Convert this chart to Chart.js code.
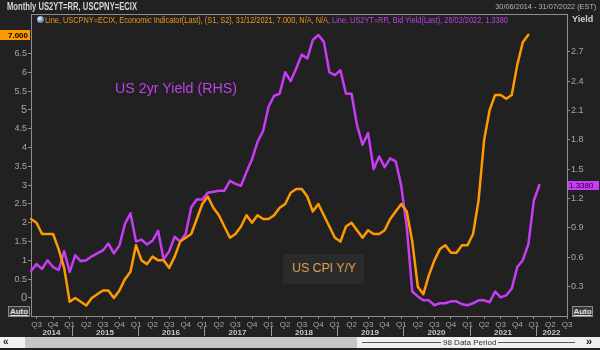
<!DOCTYPE html>
<html>
<head>
<meta charset="utf-8">
<script src="https://cdn.jsdelivr.net/npm/chart.js@4/dist/chart.umd.min.js"></script>
<style>
  body { margin: 0; background: #212121; }
  #wrap { position: relative; width: 600px; height: 350px; overflow: hidden; font-family: "Liberation Sans", Arial, sans-serif; }
  #chart { position: absolute; left: 0; top: 0; }
  .txt { position: absolute; white-space: nowrap; display: inline-block; transform-origin: left center; }
  .auto { position: absolute; height: 9px; border: 1px solid #8a8a8a; background: #3a3a3a; color: #e0e0e0;
          font-size: 8px; font-weight: bold; line-height: 9px; text-align: center; text-decoration: underline; }
</style>
</head>
<body>
<div id="wrap">
  <canvas id="chart" width="600" height="350"></canvas>

  <div class="txt" data-w="130" style="left:7px;top:1px;font-size:10px;font-weight:bold;color:#d6d6d6">Monthly US2YT=RR, USCPNY=ECIX</div>
  <div class="txt" data-w="101" style="right:4px;top:2px;font-size:8px;color:#b4b4b4;transform-origin:right center">30/06/2014 - 31/07/2022 (EST)</div>

  <div style="position:absolute;left:37px;top:16px;width:7px;height:7px;border-radius:50%;background:radial-gradient(circle at 35% 35%,#e8f0ff,#6d8fb8 60%,#3a4f6a)"></div>
  <div class="txt" data-w="463" style="left:45px;top:15px;font-size:9px;">
    <span style="color:#f0951a">Line, USCPNY=ECIX, Economic Indicator(Last), (S1, S2), 31/12/2021, 7.000, N/A, N/A, </span><span style="color:#c23fe6">Line, US2YT=RR, Bid Yield(Last), 28/02/2022, 1.3380</span>
  </div>
  <div class="txt" style="left:572px;top:14px;font-size:9px;font-weight:bold;color:#d0d0d0">Yield</div>

  <div class="txt" data-w="122" style="left:115px;top:80px;font-size:14px;color:#c43fec">US 2yr Yield (RHS)</div>
  <div style="position:absolute;left:283px;top:254px;width:81px;height:30px;background:#2a2a2a"></div>
  <div class="txt" data-w="64" style="left:292px;top:261px;font-size:12px;color:#dba14f">US CPI Y/Y</div>

  <div class="auto" style="left:8px;top:306px;width:20px">Auto</div>
  <div class="auto" style="left:572px;top:306px;width:19px">Auto</div>

  <!-- period scroller along the bottom -->
  <div style="position:absolute;left:0;top:337px;width:600px;height:11px;background:#c6c6c6"></div>
  <div style="position:absolute;left:0;top:337px;width:25px;height:11px;background:#f2f2f2;color:#222;font-size:10px;font-weight:bold;line-height:10px;padding-left:3px;box-sizing:border-box">«</div>
  <div style="position:absolute;left:357px;top:337px;width:243px;height:11px;background:#efefef"></div>
  <div style="position:absolute;left:362px;top:342px;width:213px;height:1px;background:#555"></div>
  <div class="txt" style="left:441px;top:337px;font-size:8px;line-height:11px;color:#333;background:#efefef;padding:0 2px">98 Data Period</div>
  <div class="txt" style="left:586px;top:336px;font-size:11px;font-weight:bold;line-height:11px;color:#111">»</div>
</div>

<script>
// monthly observations, end of month
const months = [
  'Jun 2014','Jul 2014','Aug 2014','Sep 2014','Oct 2014','Nov 2014','Dec 2014',
  'Jan 2015','Feb 2015','Mar 2015','Apr 2015','May 2015','Jun 2015','Jul 2015','Aug 2015','Sep 2015','Oct 2015','Nov 2015','Dec 2015',
  'Jan 2016','Feb 2016','Mar 2016','Apr 2016','May 2016','Jun 2016','Jul 2016','Aug 2016','Sep 2016','Oct 2016','Nov 2016','Dec 2016',
  'Jan 2017','Feb 2017','Mar 2017','Apr 2017','May 2017','Jun 2017','Jul 2017','Aug 2017','Sep 2017','Oct 2017','Nov 2017','Dec 2017',
  'Jan 2018','Feb 2018','Mar 2018','Apr 2018','May 2018','Jun 2018','Jul 2018','Aug 2018','Sep 2018','Oct 2018','Nov 2018','Dec 2018',
  'Jan 2019','Feb 2019','Mar 2019','Apr 2019','May 2019','Jun 2019','Jul 2019','Aug 2019','Sep 2019','Oct 2019','Nov 2019','Dec 2019',
  'Jan 2020','Feb 2020','Mar 2020','Apr 2020','May 2020','Jun 2020','Jul 2020','Aug 2020','Sep 2020','Oct 2020','Nov 2020','Dec 2020',
  'Jan 2021','Feb 2021','Mar 2021','Apr 2021','May 2021','Jun 2021','Jul 2021','Aug 2021','Sep 2021','Oct 2021','Nov 2021','Dec 2021',
  'Jan 2022','Feb 2022','Mar 2022','Apr 2022','May 2022','Jun 2022','Jul 2022'
];

// USCPNY=ECIX, % y/y (left axis)
const cpiYoY = [
  2.1, 2.0, 1.7, 1.7, 1.7, 1.3, 0.8,
  -0.1, 0.0, -0.1, -0.2, 0.0, 0.1, 0.2, 0.2, 0.0, 0.2, 0.5, 0.7,
  1.4, 1.0, 0.9, 1.1, 1.0, 1.0, 0.8, 1.1, 1.5, 1.6, 1.7, 2.1,
  2.5, 2.7, 2.4, 2.2, 1.9, 1.6, 1.7, 1.9, 2.2, 2.0, 2.2, 2.1,
  2.1, 2.2, 2.4, 2.5, 2.8, 2.9, 2.9, 2.7, 2.3, 2.5, 2.2, 1.9,
  1.6, 1.5, 1.9, 2.0, 1.8, 1.6, 1.8, 1.7, 1.7, 1.8, 2.1, 2.3,
  2.5, 2.3, 1.5, 0.3, 0.1, 0.6, 1.0, 1.3, 1.4, 1.2, 1.2, 1.4,
  1.4, 1.7, 2.6, 4.2, 5.0, 5.4, 5.4, 5.3, 5.4, 6.2, 6.8, 7.0,
  null, null, null, null, null, null, null
];

// US2YT=RR bid yield, % (right axis)
const yield2y = [
  0.46, 0.53, 0.48, 0.57, 0.50, 0.47, 0.66,
  0.45, 0.62, 0.56, 0.57, 0.61, 0.64, 0.67, 0.74, 0.64, 0.72, 0.94, 1.05,
  0.76, 0.78, 0.73, 0.77, 0.87, 0.58, 0.66, 0.81, 0.76, 0.84, 1.11, 1.19,
  1.19, 1.26, 1.27, 1.28, 1.28, 1.38, 1.35, 1.33, 1.47, 1.60, 1.78, 1.89,
  2.14, 2.25, 2.27, 2.49, 2.40, 2.53, 2.67, 2.63, 2.82, 2.87, 2.80, 2.49,
  2.46, 2.51, 2.27, 2.27, 1.95, 1.75, 1.87, 1.50, 1.63, 1.52, 1.61, 1.58,
  1.33, 0.91, 0.25, 0.20, 0.16, 0.16, 0.11, 0.13, 0.13, 0.15, 0.15, 0.12,
  0.11, 0.13, 0.16, 0.16, 0.14, 0.25, 0.19, 0.21, 0.28, 0.50, 0.57, 0.73,
  1.18, 1.338, null, null, null, null, null
];

const years = ['2014','2015','2016','2017','2018','2019','2020','2021','2022'];
const quarterOf = { Jan: 'Q1', Apr: 'Q2', Jul: 'Q3', Oct: 'Q4' };
const leftTicks = [0, 0.5, 1, 1.5, 2, 2.5, 3, 3.5, 4, 4.5, 5, 5.5, 6, 6.5];
const rightTicks = [0.3, 0.6, 0.9, 1.2, 1.5, 1.8, 2.1, 2.4, 2.7];

const ORANGE = '#ff9a00';
const PURPLE = '#c93cf5';
const AXIS = '#8e8e8e';

Chart.defaults.font.family = '"Liberation Sans", Arial, sans-serif';
Chart.defaults.color = '#a6a6a6';

function lastValue(arr) {
  for (let i = arr.length - 1; i >= 0; i--) if (arr[i] != null) return arr[i];
  return null;
}

// panel frame, year band under the quarters, last-value tags on both axes
const overlay = {
  id: 'overlay',
  afterDraw(chart) {
    const { ctx, chartArea: a, scales: { x, yL, yR } } = chart;
    ctx.save();
    ctx.strokeStyle = AXIS;
    ctx.lineWidth = 1;
    ctx.beginPath();
    ctx.moveTo(a.left, a.top + 0.5);
    ctx.lineTo(a.right, a.top + 0.5);
    ctx.stroke();

    const seps = years.map(y => {
      const i = months.indexOf('Jan ' + y);
      return i < 0 ? a.left : Math.round(x.getPixelForValue(i)) + 2;
    });
    ctx.strokeStyle = '#9a9a9a';
    ctx.font = 'bold 8px "Liberation Sans", Arial, sans-serif';
    ctx.fillStyle = '#c8c8c8';
    ctx.textAlign = 'center';
    ctx.textBaseline = 'middle';
    years.forEach((y, k) => {
      const x0 = seps[k];
      const x1 = k + 1 < seps.length ? seps[k + 1] : a.right;
      if (x0 > a.left) {
        ctx.beginPath();
        ctx.moveTo(x0 + 0.5, a.bottom + 11);
        ctx.lineTo(x0 + 0.5, a.bottom + 20);
        ctx.stroke();
      }
      ctx.fillText(y, (x0 + x1) / 2, a.bottom + 16.5);
    });

    const cpiLast = lastValue(cpiYoY);
    let yy = Math.round(yL.getPixelForValue(cpiLast));
    ctx.fillStyle = ORANGE;
    ctx.fillRect(0, yy - 5, a.left - 1, 10);
    ctx.fillStyle = '#000';
    ctx.textAlign = 'right';
    ctx.fillText(cpiLast.toFixed(3), a.left - 3, yy + 0.5);

    const ylast = lastValue(yield2y);
    yy = Math.round(yR.getPixelForValue(ylast));
    ctx.fillStyle = PURPLE;
    ctx.fillRect(a.right + 1, yy - 4, 31, 9);
    ctx.fillStyle = '#1a001c';
    ctx.textAlign = 'left';
    ctx.font = '8px "Liberation Sans", Arial, sans-serif';
    ctx.fillText(ylast.toFixed(4), a.right + 2, yy + 0.5);
    ctx.restore();
  }
};

const tickGrid = { drawOnChartArea: false, drawTicks: true, tickLength: 3, color: AXIS };

new Chart(document.getElementById('chart'), {
  type: 'line',
  data: {
    labels: months,
    datasets: [
      { label: 'USCPNY=ECIX', data: cpiYoY, yAxisID: 'yL', borderColor: ORANGE, borderWidth: 2.5 },
      { label: 'US2YT=RR', data: yield2y, yAxisID: 'yR', borderColor: PURPLE, borderWidth: 2.5 }
    ]
  },
  options: {
    responsive: false,
    animation: false,
    devicePixelRatio: 1,
    layout: { padding: { top: 14, left: 0, right: 0, bottom: 0 } },
    elements: {
      point: { radius: 0 },
      line: { tension: 0, borderJoinStyle: 'round', borderCapStyle: 'round' }
    },
    plugins: { legend: { display: false }, tooltip: { enabled: false } },
    scales: {
      x: {
        type: 'category',
        offset: false,
        grid: tickGrid,
        border: { color: AXIS },
        afterFit: s => { s.height = 34; },
        afterBuildTicks: s => {
          s.ticks = months.map((m, i) => ({ value: i })).filter(t => quarterOf[months[t.value].slice(0, 3)]);
        },
        ticks: {
          autoSkip: false,
          maxRotation: 0,
          padding: 1,
          font: { size: 8 },
          color: '#a8a8a8',
          callback: v => quarterOf[months[v].slice(0, 3)]
        }
      },
      yL: {
        position: 'left',
        min: -0.48,
        max: 7.553,
        grid: tickGrid,
        border: { color: AXIS },
        afterFit: s => { s.width = 31; },
        afterBuildTicks: s => { s.ticks = leftTicks.map(v => ({ value: v })); },
        ticks: {
          padding: 1,
          color: '#a6a6a6',
          font: c => ({ size: c.tick && (c.tick.value === 0 || c.tick.value === 5) ? 11 : 9 }),
          callback: v => String(v)
        }
      },
      yR: {
        position: 'right',
        min: 0,
        max: 3.085,
        grid: tickGrid,
        border: { color: AXIS },
        afterFit: s => { s.width = 33; },
        afterBuildTicks: s => { s.ticks = rightTicks.map(v => ({ value: v })); },
        ticks: {
          padding: 1,
          color: '#a6a6a6',
          font: { size: 9 },
          callback: v => v.toFixed(1)
        }
      }
    }
  },
  plugins: [overlay]
});

// squeeze the caption texts to the widths the terminal font gives them
document.querySelectorAll('[data-w]').forEach(el => {
  const w = el.getBoundingClientRect().width;
  if (w > 0) el.style.transform = 'scaleX(' + (+el.dataset.w / w).toFixed(3) + ')';
});
</script>
</body>
</html>
